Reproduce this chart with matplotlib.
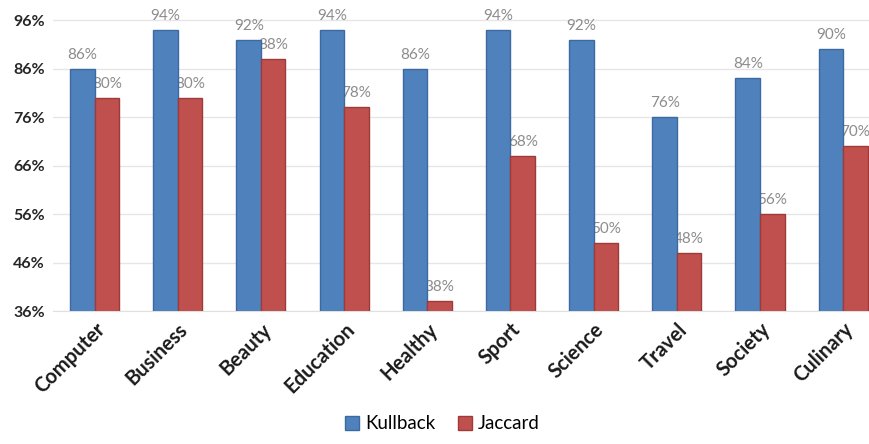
import numpy as np
import matplotlib.pyplot as plt

# data
categories = ['Computer', 'Business', 'Beauty', 'Education', 'Healthy',
              'Sport', 'Science', 'Travel', 'Society', 'Culinary']
kullback = [86, 94, 92, 94, 86, 94, 92, 76, 84, 90]
jaccard = [80, 80, 88, 78, 38, 68, 50, 48, 56, 70]
yticks = [36, 46, 56, 66, 76, 86, 96]

plt.rcParams['font.family'] = ['Lato', 'DejaVu Sans']

fig = plt.figure(figsize=(8.69, 4.44), dpi=100)
ax = fig.add_axes([0.061, 0.2995, 0.939, 0.6825])

x = np.arange(len(categories))
w = 0.295
b1 = ax.bar(x - w / 2, kullback, w, color='#4F81BD', edgecolor='#3B6AA0',
            linewidth=1, label='Kullback', zorder=3)
b2 = ax.bar(x + w / 2, jaccard, w, color='#C0504D', edgecolor='#9E3B39',
            linewidth=1, label='Jaccard', zorder=3)

# value labels (Jaccard labels sit behind the bars, as in the original)
for xi, v in zip(x, kullback):
    ax.annotate(f'{v}%', (xi - w / 2, v), xytext=(0, 5), textcoords='offset points',
                ha='center', va='bottom', fontsize=11, color='#8C8C8C', zorder=4)
for xi, v in zip(x, jaccard):
    ax.annotate(f'{v}%', (xi + w / 2, v), xytext=(0, 5), textcoords='offset points',
                ha='center', va='bottom', fontsize=11, color='#8C8C8C', zorder=2)

ax.set_ylim(36, 98.5)
ax.set_xlim(-0.5, 9.31)
ax.set_yticks(yticks)
ax.set_yticklabels([f'{t}%' for t in yticks], fontsize=11.5, fontweight='bold', color='#262626')
ax.set_xticks(x)
ax.set_xticklabels(categories, rotation=45, ha='right', rotation_mode='anchor',
                   fontsize=14.5, fontweight='bold', color='#1a1a1a')
ax.tick_params(axis='both', length=0)
ax.tick_params(axis='y', pad=6)
ax.tick_params(axis='x', pad=6)

ax.grid(axis='y', color='#E6E6E6', linewidth=1, zorder=0)
for s in ['top', 'right', 'left']:
    ax.spines[s].set_visible(False)
ax.spines['bottom'].set_color('#E0E0E0')

fig.legend(handles=[b1, b2], loc='lower center', bbox_to_anchor=(0.509, -0.012),
           ncol=2, frameon=False, fontsize=13.5, handlelength=0.75, handleheight=0.75,
           handletextpad=0.3, columnspacing=1.2)

fig.savefig('out.png', dpi=100)
